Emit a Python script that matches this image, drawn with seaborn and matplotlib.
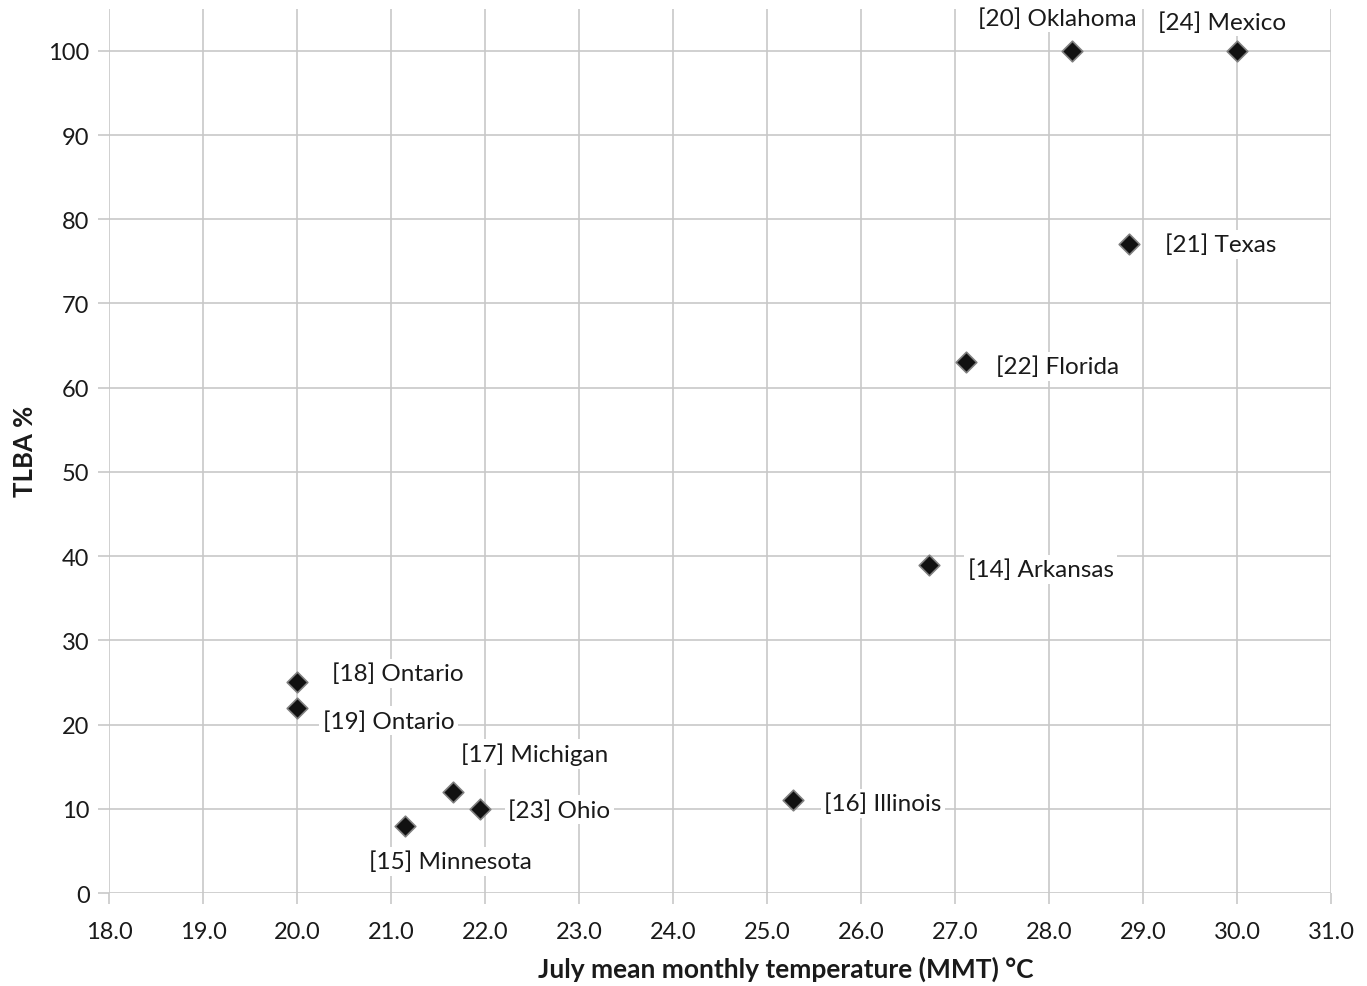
import numpy as np
import pandas as pd
import matplotlib.pyplot as plt
import seaborn as sns

# data
labels = ['[20] Oklahoma', '[24] Mexico', '[21] Texas', '[22] Florida', '[14] Arkansas',
          '[16] Illinois', '[18] Ontario', '[19] Ontario', '[17] Michigan', '[23] Ohio',
          '[15] Minnesota']
mmt = [28.24, 30.0, 28.85, 27.12, 26.72, 25.28, 20.0, 20.0, 21.66, 21.95, 21.15]
tlba = [100, 100, 77, 63, 39, 11, 25, 22, 12, 10, 8]

df = pd.DataFrame({'MMT': mmt, 'TLBA': tlba, 'label': labels})

# label offsets in pixels (dx, dy, ha)
offsets = {
    '[20] Oklahoma': (-14, 33, 'center'),
    '[24] Mexico': (-15, 29, 'center'),
    '[21] Texas': (36, 0, 'left'),
    '[22] Florida': (30, -4, 'left'),
    '[14] Arkansas': (39, -5, 'left'),
    '[16] Illinois': (31, -3, 'left'),
    '[18] Ontario': (35, 9, 'left'),
    '[19] Ontario': (26, -13, 'left'),
    '[17] Michigan': (8, 38, 'left'),
    '[23] Ohio': (28, -1, 'left'),
    '[15] Minnesota': (45, -36, 'center'),
}

sns.set_style('whitegrid')
plt.rcParams['font.family'] = ['Lato', 'DejaVu Sans']

fig = plt.figure(figsize=(13.67, 9.87), dpi=100)
ax = fig.add_axes([0.0797, 0.0942, 0.894, 0.896])

sns.scatterplot(data=df, x='MMT', y='TLBA', marker='D', s=110, color='#111111',
                edgecolor='#808080', linewidth=1.2, ax=ax, zorder=3, legend=False)

for _, r in df.iterrows():
    dx, dy, ha = offsets[r['label']]
    ax.annotate(r['label'], (r['MMT'], r['TLBA']), xytext=(dx, dy),
                textcoords='offset pixels', ha=ha, va='center', fontsize=17.5,
                color='#1a1a1a', zorder=4,
                bbox=dict(boxstyle='square,pad=0.15', fc='white', ec='none'))

ax.set_xlim(18, 31)
ax.set_ylim(0, 105)
ax.set_xticks(np.arange(18, 31.1, 1))
ax.set_xticklabels([f'{v:.1f}' for v in np.arange(18, 31.1, 1)])
ax.set_yticks(np.arange(0, 101, 10))
for s in ax.spines.values():
    s.set_visible(False)
ax.grid(True, color='#c8c8c8', linewidth=1.2)
ax.tick_params(axis='both', which='both', length=8, width=1.2, color='#c8c8c8',
               labelsize=17, labelcolor='#1a1a1a', direction='out', pad=6)
ax.tick_params(axis='x', pad=12)
ax.tick_params(left=True, bottom=True)

ax.set_xlabel('July mean monthly temperature (MMT) °C', fontsize=19, fontweight='bold',
              color='#1a1a1a')
ax.xaxis.set_label_coords(0.554, -0.071)
ax.set_ylabel('TLBA %', fontsize=18.5, fontweight='bold', color='#1a1a1a', labelpad=8)

fig.savefig('out.png', dpi=100)
